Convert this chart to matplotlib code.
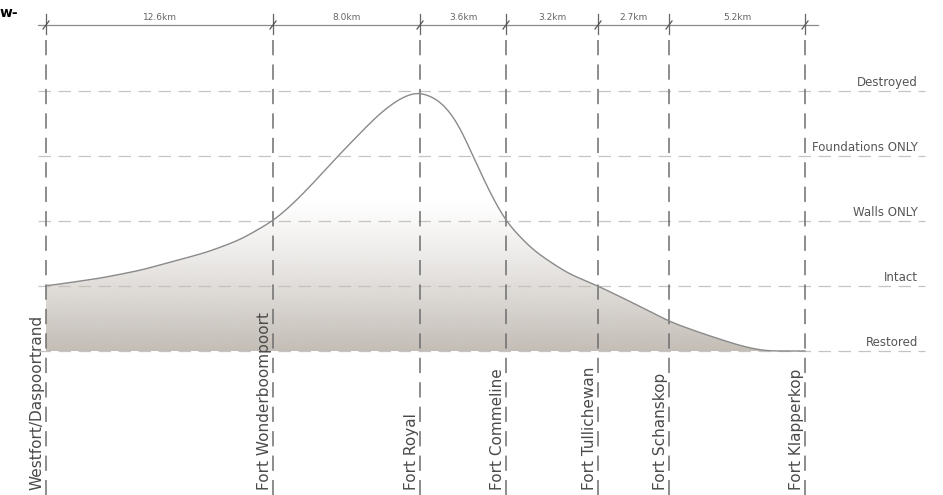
import numpy as np
import matplotlib
matplotlib.use('Agg')
from matplotlib import pyplot as plt
from matplotlib.patches import Polygon

# forts along the ridge, positions in drawing units
forts = ['Westfort/Daspoortrand', 'Fort Wonderboompoort', 'Fort Royal', 'Fort Commeline',
         'Fort Tullichewan', 'Fort Schanskop', 'Fort Klapperkop']
fort_x = [46, 273, 420, 506, 598, 669, 805]
distances = ['12.6km', '8.0km', '3.6km', '3.2km', '2.7km', '5.2km']

# condition levels, bottom to top
levels = ['Restored', 'Intact', 'Walls ONLY', 'Foundations ONLY', 'Destroyed']

# condition profile
profile_x = [46, 100, 140, 207, 240, 273, 290, 310, 338, 360, 380, 400, 418,
             440, 457, 473, 490, 506, 533, 567, 598, 633, 670, 693, 720, 743, 765, 805]
profile_level = [1.0, 1.12, 1.24, 1.52, 1.71, 2.0, 2.22, 2.53, 3.0, 3.35, 3.66, 3.89, 4.0,
                 3.86, 3.55, 3.0, 2.43, 1.98, 1.55, 1.2, 1.0, 0.74, 0.45, 0.32, 0.18,
                 0.07, 0.0, 0.0]

# one level step is 65 px in the drawing, level 0 sits at 351 px from the top
def py(p):
    return (351 - p) / 65.0


fig = plt.figure(figsize=(9.43, 4.95), dpi=100)
ax = fig.add_axes([0, 0, 1, 1])
ax.set_xlim(0, 943)
ax.set_ylim(py(495), py(0))
ax.axis('off')

# horizontal level lines + labels
for i, name in enumerate(levels):
    ax.plot([38, 925], [i, i], color='#c4c4c4', lw=0.9, ls=(0, (10, 6)), zorder=1)
    ax.text(918, i + 0.03, name, ha='right', va='bottom', fontsize=8.5,
            color='#555555')

# curve: polyline through the readings, lightly smoothed
xs = np.arange(fort_x[0], fort_x[-1] + 0.5, 0.5)
ys = np.interp(xs, profile_x, profile_level)
sig = 16  # samples (8 units)
k = np.exp(-0.5 * (np.arange(-4 * sig, 4 * sig + 1) / sig) ** 2)
k /= k.sum()
pad = len(k) // 2
ys = np.convolve(np.pad(ys, pad, mode='edge'), k, mode='valid')
ys = np.maximum(ys, 0)

grad_lv = np.linspace(0, 4.2, 300)
alpha = np.clip((2.35 - grad_lv) / 2.35, 0, 1) ** 1.2
img = np.zeros((len(grad_lv), 2, 4))
img[..., 0] = 196 / 255
img[..., 1] = 189 / 255
img[..., 2] = 182 / 255
img[..., 3] = alpha[:, None]
im = ax.imshow(img, extent=[fort_x[0], fort_x[-1], 0, 4.2], origin='lower',
               aspect='auto', interpolation='bilinear', zorder=2)
poly = Polygon(np.column_stack([np.r_[xs, xs[-1], xs[0]], np.r_[ys, 0, 0]]),
               closed=True, facecolor='none', edgecolor='none')
ax.add_patch(poly)
im.set_clip_path(poly)
ax.plot(xs, ys, color='#8a8a8a', lw=1.0, zorder=4)

# vertical fort lines and labels
for x, name in zip(fort_x, forts):
    ax.plot([x, x], [py(40), py(495)], color='#6e6e6e', lw=1.1, ls=(0, (10, 6)), zorder=3)
    ax.text(x - 1, py(490), name, rotation=90, ha='right', va='bottom',
            fontsize=11, color='#4a4a4a')

# dimension line on top
dim_y = py(25)
ax.plot([38, 818], [dim_y, dim_y], color='#8a8a8a', lw=0.9)
for x in fort_x:
    ax.plot([x, x], [py(14), py(34)], color='#666666', lw=0.9)
    ax.plot([x - 3, x + 3], [py(29), py(21)], color='#555555', lw=0.9)
for a, b, lab in zip(fort_x[:-1], fort_x[1:], distances):
    ax.text((a + b) / 2, py(22), lab, ha='center', va='bottom', fontsize=6.5,
            color='#666666')

ax.text(0, py(13), 'w-', ha='left', va='center', fontsize=10, fontweight='bold',
        color='black')

fig.savefig('out.png', dpi=100)
